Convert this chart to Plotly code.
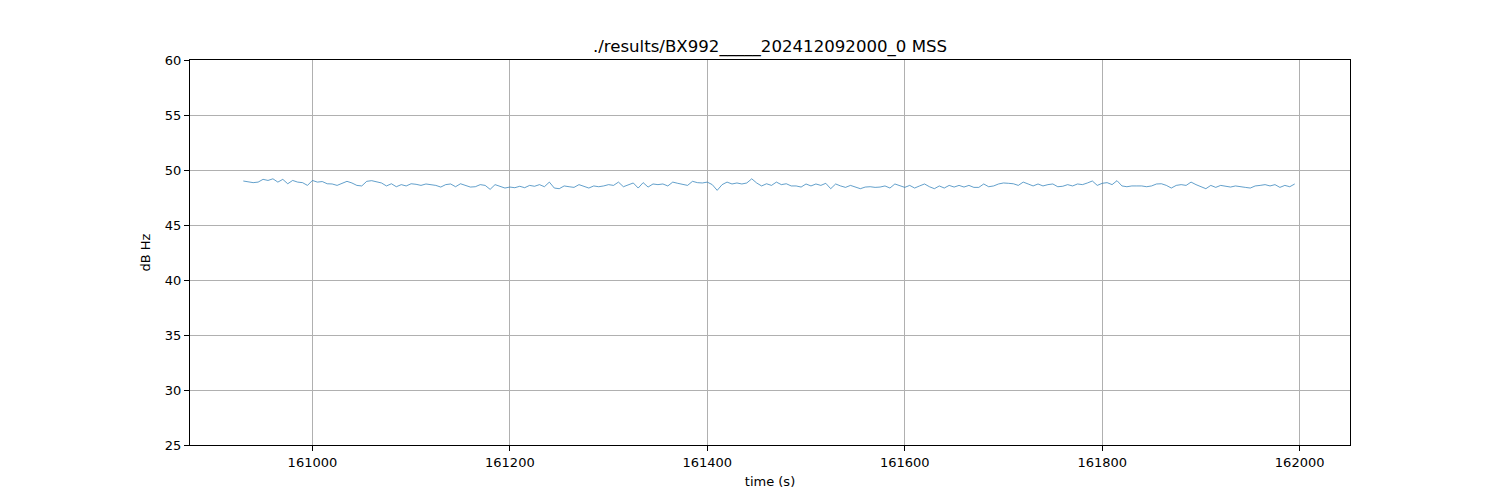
import numpy as np
import plotly.graph_objects as go

# sampling times (s) and carrier-to-noise values (dB Hz), every 5 s
t_start = 160930
t_step = 5

snr = [
    49.0, 48.9, 48.85, 48.9, 49.15, 49.05, 49.2, 48.9, 49.15, 48.75, 49.05, 48.9, 48.85, 48.6, 49.05, 48.9, 48.95, 48.75,
    48.73, 48.6, 48.82, 48.97, 48.82, 48.6, 48.55, 48.97, 49.03, 48.9, 48.82, 48.55, 48.75, 48.48, 48.67, 48.55, 48.75, 48.7,
    48.6, 48.73, 48.67, 48.6, 48.45, 48.67, 48.73, 48.48, 48.75, 48.6, 48.45, 48.48, 48.67, 48.6, 48.24, 48.67, 48.55, 48.36,
    48.45, 48.39, 48.52, 48.39, 48.6, 48.52, 48.67, 48.48, 48.9, 48.36, 48.3, 48.55, 48.48, 48.42, 48.67, 48.52, 48.36, 48.55,
    48.48, 48.55, 48.67, 48.6, 48.9, 48.48, 48.67, 48.82, 48.36, 48.85, 48.45, 48.73, 48.67, 48.73, 48.55, 48.9, 48.79, 48.67,
    48.6, 48.97, 48.85, 48.82, 48.9, 48.67, 48.15, 48.67, 48.9, 48.73, 48.82, 48.73, 48.82, 49.2, 48.82, 48.55, 48.75, 48.6,
    48.9, 48.67, 48.75, 48.55, 48.55, 48.45, 48.73, 48.55, 48.73, 48.6, 48.79, 48.3, 48.73, 48.55, 48.42, 48.6, 48.48, 48.3,
    48.45, 48.48, 48.42, 48.45, 48.55, 48.36, 48.73, 48.55, 48.42, 48.6, 48.36, 48.55, 48.73, 48.48, 48.3, 48.55, 48.36, 48.6, 48.45,
    48.6, 48.45, 48.6, 48.42, 48.42, 48.73, 48.48, 48.55, 48.73, 48.82, 48.79, 48.75, 48.6, 48.9, 48.73, 48.55, 48.73, 48.55,
    48.67, 48.73, 48.48, 48.52, 48.67, 48.55, 48.73, 48.67, 48.82, 49.0, 48.6, 48.79, 48.85, 48.67, 49.03, 48.55, 48.48, 48.55,
    48.55, 48.55, 48.48, 48.55, 48.73, 48.75, 48.6, 48.36, 48.6, 48.67, 48.6, 48.9, 48.67, 48.45, 48.3, 48.6, 48.42, 48.6,
    48.55, 48.45, 48.55, 48.45, 48.42, 48.36, 48.55, 48.6, 48.67, 48.55, 48.67, 48.42, 48.6, 48.48, 48.73,
]
t = t_start + t_step * np.arange(len(snr))

title = "./results/BX992_____202412092000_0 MSS"
x_ticks = [161000, 161200, 161400, 161600, 161800, 162000]
y_ticks = [25, 30, 35, 40, 45, 50, 55, 60]

fig = go.Figure()
fig.add_trace(go.Scatter(x=t, y=snr, mode='lines',
                         line=dict(color='#1f77b4', width=0.7),
                         showlegend=False))

axis_common = dict(showline=True, linecolor='black', linewidth=1, mirror=True,
                   showgrid=True, gridcolor='#b0b0b0', gridwidth=0.8,
                   ticks='outside', ticklen=5, tickcolor='black',
                   zeroline=False, tickfont=dict(size=13, color='black'))

fig.update_xaxes(range=[160876, 162051], tickvals=x_ticks,
                 ticktext=[str(v) for v in x_ticks],
                 title=dict(text='time (s)', font=dict(size=13, color='black'), standoff=8),
                 **axis_common)
fig.update_yaxes(range=[25, 60], tickvals=y_ticks,
                 title=dict(text='dB Hz', font=dict(size=13, color='black'), standoff=11),
                 **axis_common)

# the page body adds ~8 px of offset, so margins are trimmed to land the axes
# where the reference has them
fig.update_layout(
    width=1500, height=500,
    margin=dict(l=182, r=158, t=52, b=63),
    plot_bgcolor='white', paper_bgcolor='white',
    font=dict(family='DejaVu Sans', color='black'),
    title=dict(text=title, x=0.5, xref='paper', y=1 - 38 / 500, yref='container',
               yanchor='middle', xanchor='center', font=dict(size=16.6, color='black')),
)

fig.write_html("out.html")
